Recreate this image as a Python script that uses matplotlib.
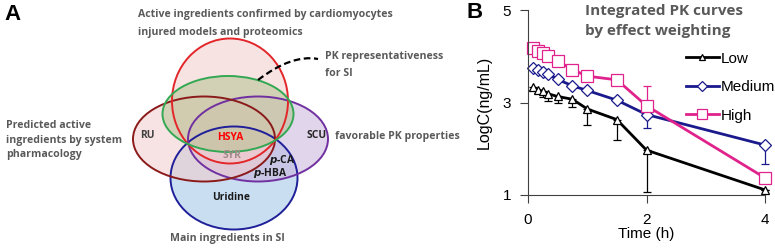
import matplotlib
matplotlib.use("Agg")
import matplotlib.pyplot as plt
from matplotlib.patches import Ellipse, PathPatch
from matplotlib.path import Path
from matplotlib.lines import Line2D

# ---- panel B data ----
times = [0.083, 0.167, 0.25, 0.333, 0.5, 0.75, 1, 1.5, 2, 4]
low = [3.33, 3.28, 3.24, 3.19, 3.13, 3.07, 2.86, 2.63, 1.97, 1.11]
low_err = [0.05, 0.08, 0.12, 0.15, 0.13, 0.17, 0.35, 0.45, 0.9, 0.0]
medium = [3.75, 3.70, 3.66, 3.62, 3.50, 3.36, 3.26, 3.05, 2.74, 2.08]
medium_err = [0.03, 0.03, 0.03, 0.03, 0.03, 0.03, 0.03, 0.03, 0.3, 0.4]
high = [4.17, 4.12, 4.06, 4.00, 3.90, 3.71, 3.57, 3.49, 2.93, 1.37]
high_err = [0, 0, 0, 0, 0, 0, 0, 0, 0.42, 0]
series_names = ["Low", "Medium", "High"]

# ---- panel A venn sets (center x, center y, width, height in px) ----
venn_sets = {
    "blue": (234, 178, 127, 103),
    "purple": (258, 139, 140, 85),
    "ru": (204, 139, 142, 85),
    "red": (230, 101, 116, 125),
    "green": (228, 114, 131, 76),
}
venn_style = {
    "blue": ("#1f1f99", "#9dc3e6"),
    "purple": ("#7030a0", "#c9b3dc"),
    "ru": ("#8b1a1a", "#f2cccc"),
    "red": ("#e3262a", "#f4cccc"),
    "green": ("#33a853", "#b4c290"),
}

GREY = "#595959"
SANS = "Open Sans"

fig = plt.figure(figsize=(7.75, 2.48), dpi=100)

# ---------------- panel A ----------------
axA = fig.add_axes([0, 0, 400 / 775, 1])
axA.set_xlim(0, 400)
axA.set_ylim(248, 0)
axA.axis("off")

for key, (cx, cy, w, h) in venn_sets.items():
    edge, face = venn_style[key]
    axA.add_patch(Ellipse((cx, cy), w, h, facecolor=face, alpha=0.55,
                          edgecolor="none"))
for key, (cx, cy, w, h) in venn_sets.items():
    edge, face = venn_style[key]
    axA.add_patch(Ellipse((cx, cy), w, h, facecolor="none",
                          edgecolor=edge, lw=1.4))

axA.text(4, 14, "A", fontsize=16, fontweight="bold", family="Liberation Sans",
         va="center", ha="left")

kw = dict(family=SANS, fontweight="bold", color=GREY, fontsize=7.6,
          va="center", ha="left")
axA.text(138, 15, "Active ingredients confirmed by cardiomyocytes", **kw)
axA.text(138, 32, "injured models and proteomics", **kw)
axA.text(325, 57, "PK representativeness", **kw)
axA.text(325, 74, "for SI", **kw)
axA.text(6, 125, "Predicted active", **kw)
axA.text(6, 140, "ingredients by system", **kw)
axA.text(6, 155, "pharmacology", **kw)
axA.text(335, 137, "favorable PK properties", **kw)
axA.text(227, 238, "Main ingredients in SI", **dict(kw, ha="center"))

ikw = dict(family=SANS, fontweight="bold", fontsize=7.4, va="center",
           ha="center")
axA.text(147, 135, "RU", color="#404040", **ikw)
axA.text(230, 137, "HSYA", color="#ff0000", **ikw)
axA.text(317, 135, "SCU", color="#262626", **ikw)
axA.text(232, 156, "SYR", color="#a08a8a", **ikw)
axA.text(282, 160, r"$\bfit{p}$-CA", color="#1a1a1a", **ikw)
axA.text(270, 173, r"$\bfit{p}$-HBA", color="#1a1a1a", **ikw)
axA.text(231, 197, "Uridine", color="#1a1a1a", **ikw)

curve = Path([(258, 80), (292, 54), (318, 59)],
             [Path.MOVETO, Path.CURVE3, Path.CURVE3])
axA.add_patch(PathPatch(curve, facecolor="none", edgecolor="black", lw=1.6,
                        linestyle=(0, (3, 1.6))))

# ---------------- panel B ----------------
axB = fig.add_axes([528 / 775, 1 - 195 / 248, 237 / 775, 185 / 248])
colors = ["black", "#1a1a8c", "#e0238c"]
markers = ["^", "D", "s"]
msizes = [6, 6, 8]
values = [low, medium, high]
yerrs = [[low_err, [0] * len(times)],
         [medium_err, [0] * len(times)],
         [[0] * len(times), high_err]]

handles = []
for name, vals, err, c, m, ms in zip(series_names, values, yerrs, colors,
                                     markers, msizes):
    axB.errorbar(times, vals, yerr=err, color=c, ecolor=c, elinewidth=0.9,
                 capsize=3, capthick=0.9, lw=2, marker=m, ms=ms,
                 mfc="white", mec=c, mew=0.9, clip_on=False)
    handles.append(Line2D([], [], color=c, lw=2, marker=m, ms=ms - 1,
                          mfc="white", mec=c, mew=0.9, label=name))

axB.set_xlim(0, 4)
axB.set_ylim(1, 5)
axB.set_xticks([0, 2, 4])
axB.set_yticks([1, 3, 5])
for s in ["top", "right"]:
    axB.spines[s].set_visible(False)
for s in ["left", "bottom"]:
    axB.spines[s].set_color("#404040")
axB.tick_params(direction="out", length=6, color="#404040",
                labelsize=11)
axB.tick_params(axis="y", pad=6)
axB.tick_params(axis="x", pad=7)
for lab in axB.get_xticklabels() + axB.get_yticklabels():
    lab.set_family("Liberation Sans")
axB.set_xlabel("Time (h)", family="Liberation Sans", fontsize=11,
               labelpad=0)
axB.set_ylabel("LogC(ng/mL)", family="Liberation Sans", fontsize=11.5,
               labelpad=8)

fig.text(467 / 775, 1 - 12 / 248, "B", fontsize=16, fontweight="bold",
         family="Liberation Sans", va="center", ha="left")
fig.text(585 / 775, 1 - 11 / 248, "Integrated PK curves", family=SANS,
         fontweight="bold", color=GREY, fontsize=11, va="center")
fig.text(585 / 775, 1 - 31 / 248, "by effect weighting", family=SANS,
         fontweight="bold", color=GREY, fontsize=11, va="center")

axB.legend(handles=handles, loc="upper left", bbox_to_anchor=(0.665, 0.774),
           frameon=False, handlelength=2.2, handletextpad=0.1,
           labelspacing=0.95, borderaxespad=0, borderpad=0,
           prop={"family": "Liberation Sans", "size": 11})

fig.savefig("out.png", dpi=100)
